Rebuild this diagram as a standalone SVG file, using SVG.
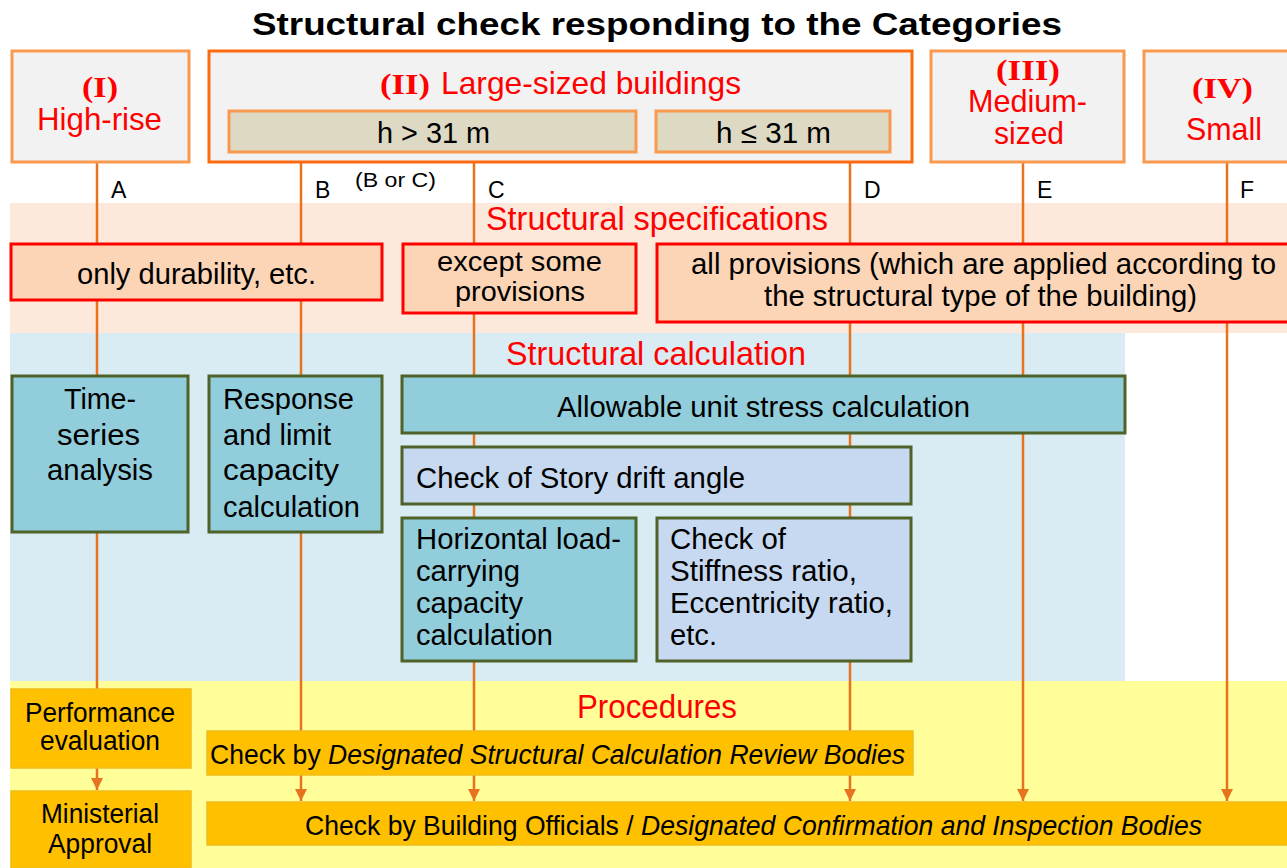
<svg xmlns="http://www.w3.org/2000/svg" width="1287" height="868" viewBox="0 0 1287 868">
<defs>
<marker id="arr" markerWidth="12" markerHeight="12" refX="12" refY="6" orient="auto" markerUnits="userSpaceOnUse" viewBox="0 0 12 12">
<path d="M0,0 L12,6 L0,12 Z" fill="#E8731E"/>
</marker>
<style>
text{font-family:"Liberation Sans",Arial,sans-serif}
.t{fill:#000;font-size:30px}
.s{font-size:28px}
.c{text-anchor:middle}
.red{fill:#FF0000;font-size:32px}
.rom{fill:#FF0000;font-family:"Liberation Serif","Times New Roman",serif;font-weight:bold;font-size:30px}
.lbl{font-size:23px;fill:#000}
.cat{fill:#F2F2F2;stroke:#F9994F;stroke-width:3}
.hbox{fill:#DDD9C3;stroke:#F9994F;stroke-width:3}
.spec{fill:#FBD5B5;stroke:#FF0000;stroke-width:3}
.calc{fill:#92CDDC;stroke:#4F6228;stroke-width:3}
.chk{fill:#C6D9F0;stroke:#4F6228;stroke-width:3}
.proc{fill:#FFC000;stroke:#F0BC1A;stroke-width:1.5}
.ln{stroke:#E8731E;stroke-width:2.5;fill:none}
</style>
</defs>
<rect width="1287" height="868" fill="#FFFFFF"/>
<g id="bands">
<rect x="10" y="203" width="1277" height="130" fill="#FCE9DC"/>
<rect x="10" y="333" width="1115" height="348" fill="#DAECF3"/>
<rect x="10" y="681" width="1277" height="187" fill="#FFFE99"/>
</g>
<text x="252" y="35" font-family="'Open Sans','Liberation Sans',sans-serif" font-weight="bold" font-size="31" textLength="810" lengthAdjust="spacingAndGlyphs" fill="#000">Structural check responding to the Categories</text>
<g id="connectors">
<line class="ln" x1="97" y1="162" x2="97" y2="700"/>
<line class="ln" x1="97" y1="768" x2="97" y2="790" marker-end="url(#arr)"/>
<line class="ln" x1="301" y1="152" x2="301" y2="801" marker-end="url(#arr)"/>
<line class="ln" x1="474" y1="152" x2="474" y2="801" marker-end="url(#arr)"/>
<line class="ln" x1="850" y1="152" x2="850" y2="801" marker-end="url(#arr)"/>
<line class="ln" x1="1023" y1="162" x2="1023" y2="801" marker-end="url(#arr)"/>
<line class="ln" x1="1227" y1="162" x2="1227" y2="801" marker-end="url(#arr)"/>
</g>
<g id="labels">
<text class="lbl" x="111" y="198">A</text>
<text class="lbl" x="315" y="198">B</text>
<text class="lbl" x="355" y="187" style="font-size:21px" textLength="81" lengthAdjust="spacingAndGlyphs">(B or C)</text>
<text class="lbl" x="488" y="198">C</text>
<text class="lbl" x="864" y="198">D</text>
<text class="lbl" x="1037" y="198">E</text>
<text class="lbl" x="1240" y="198">F</text>
<text class="red" x="486" y="230" style="font-size:33px" textLength="342" lengthAdjust="spacingAndGlyphs">Structural specifications</text>
<text class="red" x="506" y="365" style="font-size:33px" textLength="300" lengthAdjust="spacingAndGlyphs">Structural calculation</text>
<text class="red" x="577" y="718" style="font-size:33px" textLength="160" lengthAdjust="spacingAndGlyphs">Procedures</text>
</g>
<g id="cat1">
<rect class="cat" x="12" y="51" width="177" height="111"/>
<text class="rom" x="82" y="97" textLength="36" lengthAdjust="spacingAndGlyphs">(I)</text>
<text class="red" x="37" y="130" textLength="125" lengthAdjust="spacingAndGlyphs">High-rise</text>
</g>
<g id="cat2">
<rect x="209" y="51" width="703" height="111" fill="#F2F2F2" stroke="#FB6A0E" stroke-width="3"/>
<text class="rom" x="380" y="94" textLength="50" lengthAdjust="spacingAndGlyphs">(II)</text>
<text class="red" x="441" y="94" textLength="300" lengthAdjust="spacingAndGlyphs">Large-sized buildings</text>
</g>
<g id="h-over">
<rect class="hbox" x="229" y="111" width="407" height="41"/>
<text class="t" x="377" y="143" textLength="113" lengthAdjust="spacingAndGlyphs">h &gt; 31 m</text>
</g>
<g id="h-under">
<rect class="hbox" x="656" y="111" width="234" height="41"/>
<text class="t" x="716" y="143" textLength="115" lengthAdjust="spacingAndGlyphs">h ≤ 31 m</text>
</g>
<g id="cat3">
<rect class="cat" x="931" y="51" width="193" height="111"/>
<text class="rom" x="996" y="80" textLength="64" lengthAdjust="spacingAndGlyphs">(III)</text>
<text class="red" x="968" y="112" textLength="119" lengthAdjust="spacingAndGlyphs">Medium-</text>
<text class="red" x="994" y="144" textLength="70" lengthAdjust="spacingAndGlyphs">sized</text>
</g>
<g id="cat4">
<rect class="cat" x="1144" y="51" width="150" height="111"/>
<text class="rom" x="1192" y="98" textLength="61" lengthAdjust="spacingAndGlyphs">(IV)</text>
<text class="red" x="1186" y="140" textLength="76" lengthAdjust="spacingAndGlyphs">Small</text>
</g>
<g id="spec1">
<rect class="spec" x="11" y="244" width="371" height="56"/>
<text class="t" x="77" y="284" textLength="239" lengthAdjust="spacingAndGlyphs">only durability, etc.</text>
</g>
<g id="spec2">
<rect class="spec" x="403" y="244" width="233" height="69"/>
<text class="t s" x="437" y="271" textLength="165" lengthAdjust="spacingAndGlyphs">except some</text>
<text class="t s" x="455" y="301" textLength="130" lengthAdjust="spacingAndGlyphs">provisions</text>
</g>
<g id="spec3">
<rect class="spec" x="657" y="244" width="640" height="78"/>
<text class="t" x="691" y="274" textLength="585" lengthAdjust="spacingAndGlyphs">all provisions (which are applied according to</text>
<text class="t" x="764" y="306" textLength="433" lengthAdjust="spacingAndGlyphs">the structural type of the building)</text>
</g>
<g id="timeseries">
<rect class="calc" x="12" y="376" width="176" height="156"/>
<text class="t" x="64" y="409" textLength="72" lengthAdjust="spacingAndGlyphs">Time-</text>
<text class="t" x="57" y="445" textLength="83" lengthAdjust="spacingAndGlyphs">series</text>
<text class="t" x="47" y="480" textLength="106" lengthAdjust="spacingAndGlyphs">analysis</text>
</g>
<g id="response">
<rect class="calc" x="209" y="376" width="173" height="156"/>
<text class="t" x="223" y="409" textLength="131" lengthAdjust="spacingAndGlyphs">Response</text>
<text class="t" x="223" y="445" textLength="108" lengthAdjust="spacingAndGlyphs">and limit</text>
<text class="t" x="223" y="480" textLength="116" lengthAdjust="spacingAndGlyphs">capacity</text>
<text class="t" x="223" y="517" textLength="137" lengthAdjust="spacingAndGlyphs">calculation</text>
</g>
<g id="allowable">
<rect class="calc" x="402" y="376" width="723" height="57"/>
<text class="t" x="557" y="417" textLength="413" lengthAdjust="spacingAndGlyphs">Allowable unit stress calculation</text>
</g>
<g id="drift">
<rect class="chk" x="402" y="447" width="509" height="57"/>
<text class="t" x="416" y="488" textLength="329" lengthAdjust="spacingAndGlyphs">Check of Story drift angle</text>
</g>
<g id="horizontal">
<rect class="calc" x="402" y="518" width="234" height="143"/>
<text class="t" x="416" y="549" textLength="205" lengthAdjust="spacingAndGlyphs">Horizontal load-</text>
<text class="t" x="416" y="581" textLength="104" lengthAdjust="spacingAndGlyphs">carrying</text>
<text class="t" x="416" y="613" textLength="107" lengthAdjust="spacingAndGlyphs">capacity</text>
<text class="t" x="416" y="645" textLength="137" lengthAdjust="spacingAndGlyphs">calculation</text>
</g>
<g id="stiffness">
<rect class="chk" x="657" y="518" width="254" height="143"/>
<text class="t" x="670" y="549" textLength="116" lengthAdjust="spacingAndGlyphs">Check of</text>
<text class="t" x="670" y="581" textLength="187" lengthAdjust="spacingAndGlyphs">Stiffness ratio,</text>
<text class="t" x="670" y="613" textLength="223" lengthAdjust="spacingAndGlyphs">Eccentricity ratio,</text>
<text class="t" x="670" y="645" textLength="47" lengthAdjust="spacingAndGlyphs">etc.</text>
</g>
<g id="performance">
<rect class="proc" x="11" y="689" width="180" height="79"/>
<text class="t" x="25" y="722" style="font-size:27px" textLength="150" lengthAdjust="spacingAndGlyphs">Performance</text>
<text class="t" x="40" y="750" style="font-size:27px" textLength="120" lengthAdjust="spacingAndGlyphs">evaluation</text>
</g>
<g id="ministerial">
<rect class="proc" x="11" y="791" width="180" height="77"/>
<text class="t" x="41" y="823" style="font-size:27px" textLength="118" lengthAdjust="spacingAndGlyphs">Ministerial</text>
<text class="t" x="48" y="853" style="font-size:27px" textLength="104" lengthAdjust="spacingAndGlyphs">Approval</text>
</g>
<g id="review">
<rect class="proc" x="207" y="731" width="706" height="44"/>
<text class="t" x="210" y="764" style="font-size:28px" textLength="695" lengthAdjust="spacingAndGlyphs">Check by <tspan font-style="italic">Designated Structural Calculation Review Bodies</tspan></text>
</g>
<g id="officials">
<rect class="proc" x="207" y="802" width="1085" height="43"/>
<text class="t" x="305" y="835" style="font-size:28px" textLength="897" lengthAdjust="spacingAndGlyphs">Check by Building Officials / <tspan font-style="italic">Designated Confirmation and Inspection Bodies</tspan></text>
</g>
</svg>
